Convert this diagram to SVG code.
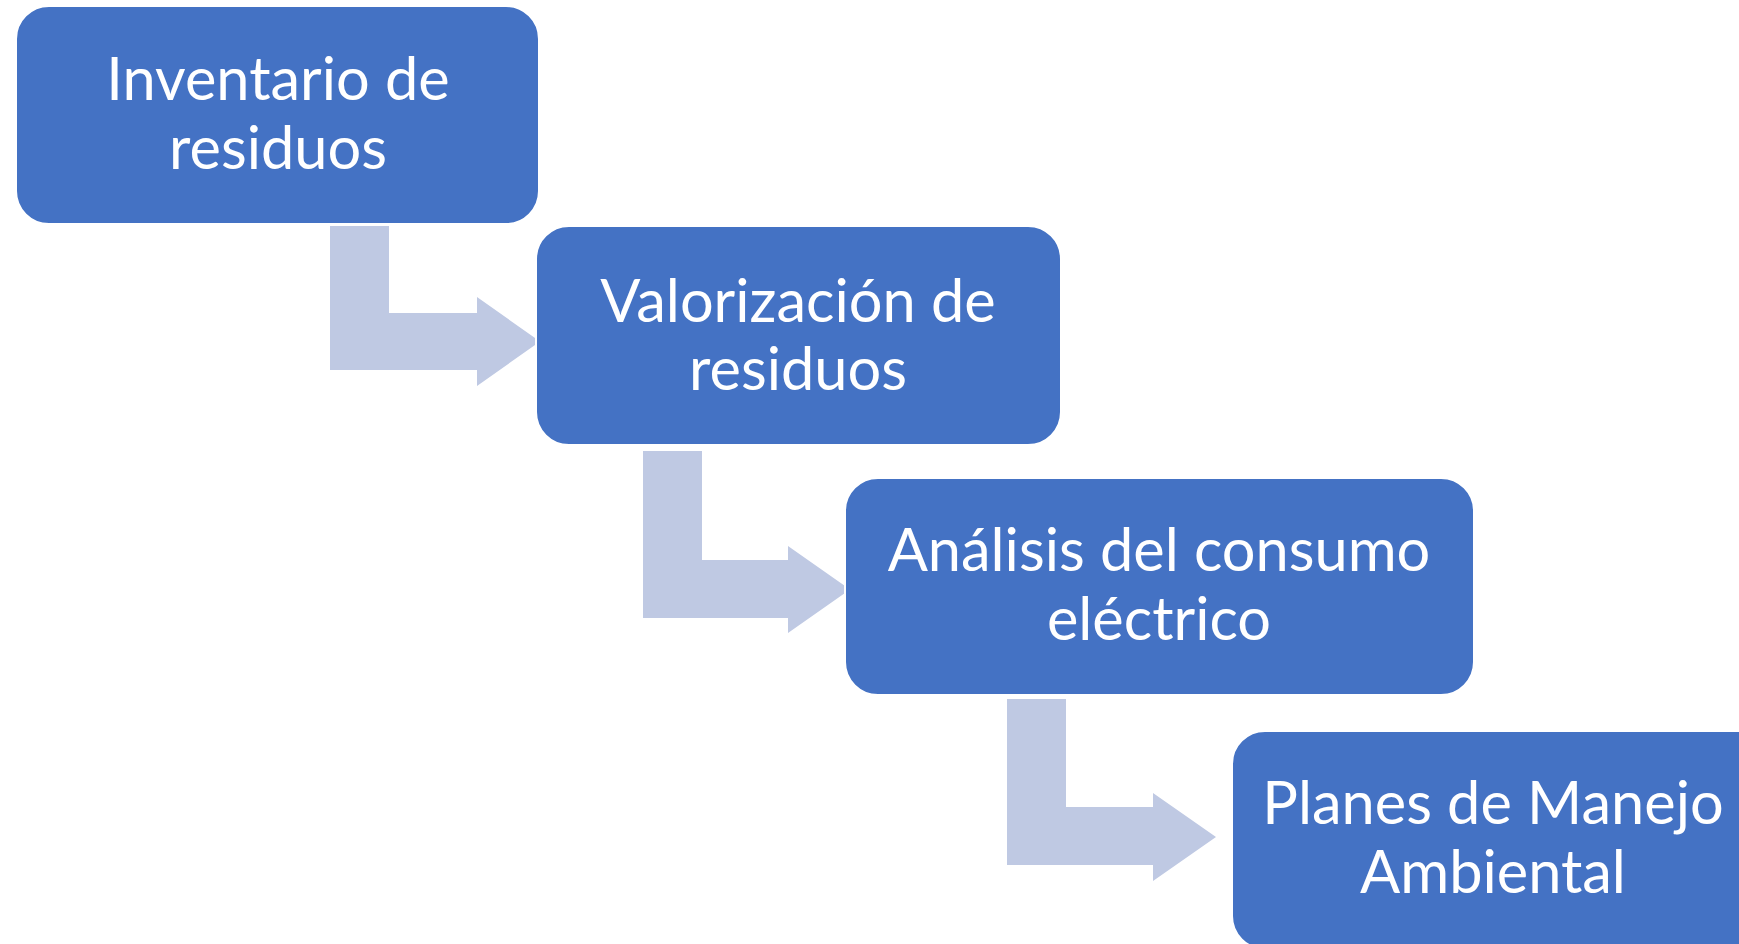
<svg xmlns="http://www.w3.org/2000/svg" width="1739" height="944" viewBox="0 0 1739 944">
<style>
.box{fill:#4472C4;stroke:#FFFFFF;stroke-width:2}
.arr{fill:#BFC9E3}
.lbl{font-family:Lato,"Open Sans","Liberation Sans",sans-serif;font-size:59.5px;fill:#FFFFFF;text-anchor:middle}
</style>
<rect width="1739" height="944" fill="#FFFFFF"/>
<g id="connectors">
<path class="arr" d="M330,226 H389 V313 H477 V297 L540,341.5 L477,386 V370 H330 Z"/>
<path class="arr" d="M643,451 H702 V560 H788 V546 L850,589.5 L788,633 V618 H643 Z"/>
<path class="arr" d="M1007,699 H1066 V807 H1153 V793 L1216,837 L1153,881 V865 H1007 Z"/>
</g>
<g id="node1">
<rect class="box" x="16" y="6" width="523" height="218" rx="33" ry="33"/>
<text class="lbl" x="278" y="100">Inventario de</text>
<text class="lbl" x="278" y="169">residuos</text>
</g>
<g id="node2">
<rect class="box" x="536" y="226" width="525" height="219" rx="33" ry="33"/>
<text class="lbl" x="798" y="322">Valorización de</text>
<text class="lbl" x="798" y="390">residuos</text>
</g>
<g id="node3">
<rect class="box" x="845" y="478" width="629" height="217" rx="33" ry="33"/>
<text class="lbl" x="1159" y="571">Análisis del consumo</text>
<text class="lbl" x="1159" y="640">eléctrico</text>
</g>
<g id="node4">
<rect class="box" x="1232" y="731" width="629" height="218" rx="33" ry="33"/>
<text class="lbl" x="1493" y="824">Planes de Manejo</text>
<text class="lbl" x="1493" y="893">Ambiental</text>
</g>
</svg>
